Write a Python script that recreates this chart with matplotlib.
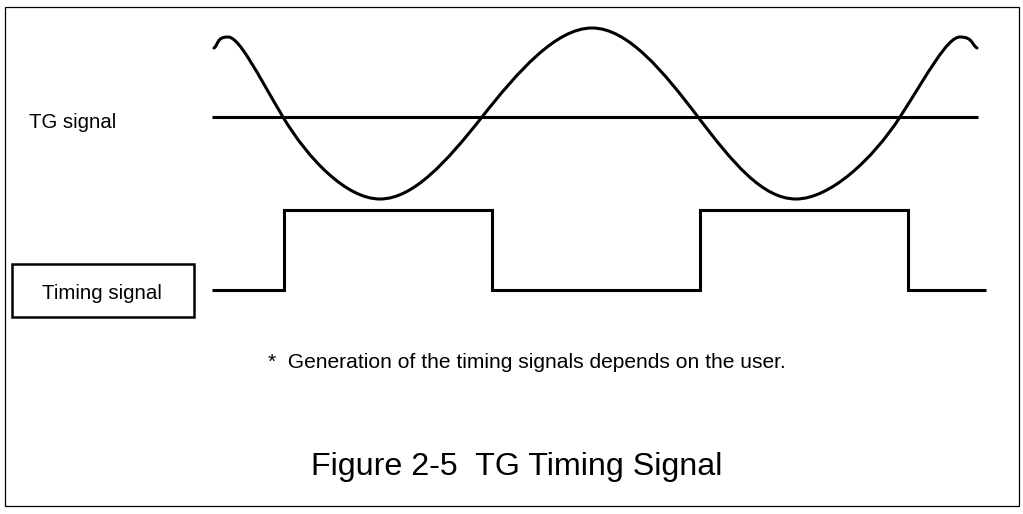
import numpy as np
import matplotlib
matplotlib.use("Agg")
import matplotlib.pyplot as plt
from matplotlib.path import Path
from matplotlib.patches import PathPatch, Rectangle

# ---- data (pixel units) ----
sine_x = [214, 228, 283, 380, 482, 592, 698, 796, 900, 960, 977]
sine_y = [48, 37, 117, 199, 117, 28, 117, 199, 117, 37, 48]
midline_x = [212, 978]
midline_y = [117, 117]
timing_x = [212, 284, 284, 492, 492, 700, 700, 908, 908, 986]
timing_y = [290, 290, 210, 210, 290, 290, 210, 210, 290, 290]
label_tg = "TG signal"
label_timing = "Timing signal"
footnote = "*  Generation of the timing signals depends on the user."
title = "Figure 2-5  TG Timing Signal"

plt.rcParams['font.family'] = ['Liberation Sans', 'DejaVu Sans']

fig = plt.figure(figsize=(10.23, 5.14), dpi=100)
ax = fig.add_axes([0, 0, 1, 1])
ax.set_xlim(0, 1023)
ax.set_ylim(514, 0)
ax.axis('off')

# page border
ax.add_patch(Rectangle((5, 7), 1014, 499, fill=False, edgecolor='black', lw=0.9))

# smooth curve through key points using cubic Bezier segments
n = len(sine_x)
P = np.column_stack([sine_x, sine_y]).astype(float)
T = np.zeros_like(P)
for i in range(n):
    if i == 0:
        T[i] = P[1] - P[0]
        continue
    if i == n - 1:
        T[i] = P[-1] - P[-2]
        continue
    d1 = P[i, 1] - P[i - 1, 1]
    d2 = P[i + 1, 1] - P[i, 1]
    dx = (P[i + 1, 0] - P[i - 1, 0]) / 2
    if d1 * d2 < 0:  # extremum
        T[i] = [dx, 0]
    else:
        slope = (P[i + 1, 1] - P[i - 1, 1]) / (P[i + 1, 0] - P[i - 1, 0]) * np.pi / 2
        T[i] = [dx, dx * slope]
verts = [tuple(P[0])]
codes = [Path.MOVETO]
for i in range(n - 1):
    verts += [tuple(P[i] + T[i] / 3), tuple(P[i + 1] - T[i + 1] / 3), tuple(P[i + 1])]
    codes += [Path.CURVE4] * 3
ax.add_patch(PathPatch(Path(verts, codes), fill=False, edgecolor='black', lw=2.2,
                       capstyle='round'))

ax.plot(midline_x, midline_y, color='black', lw=2.2, solid_capstyle='butt')
ax.plot(timing_x, timing_y, color='black', lw=2.2, solid_capstyle='butt',
        solid_joinstyle='miter')

# labels
ax.text(29, 128, label_tg, fontsize=14.7, ha='left', va='baseline')
ax.add_patch(Rectangle((12, 264), 182, 53, fill=False, edgecolor='black', lw=1.8))
ax.text(42, 299, label_timing, fontsize=14.8, ha='left', va='baseline')
ax.text(268, 368, footnote, fontsize=15.1, ha='left', va='baseline')
ax.text(311, 475, title, fontsize=23.2, ha='left', va='baseline')

fig.savefig("out.png", dpi=100)
